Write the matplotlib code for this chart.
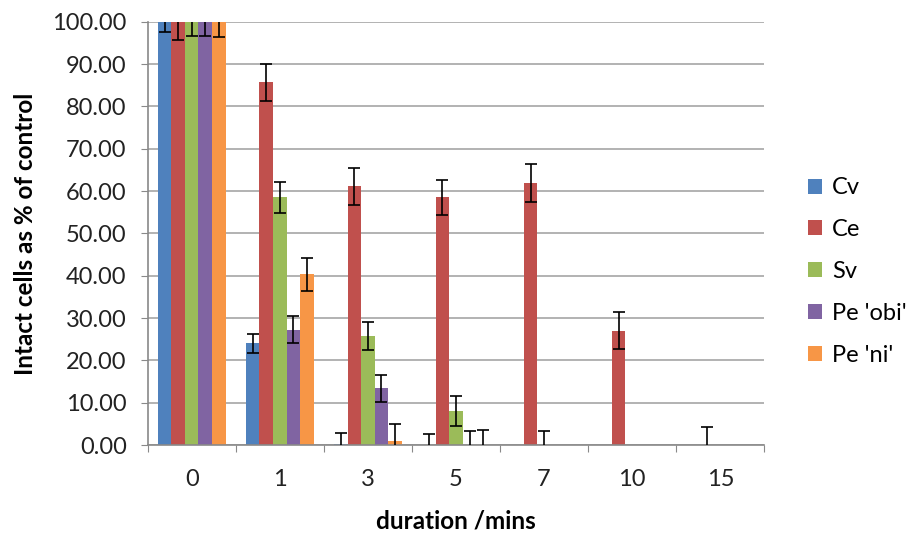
import matplotlib.pyplot as plt
import numpy as np

plt.rcParams['font.family'] = ['Lato', 'DejaVu Sans']

#data
durations = ['0', '1', '3', '5', '7', '10', '15']
series = ['Cv', 'Ce', 'Sv', "Pe 'obi'", "Pe 'ni'"]
nan = np.nan
cv = [100.0, 24.0, 0.3, 0.0, 0.0, 0.0, 0.0]
ce = [100.0, 85.7, 61.1, 58.5, 61.9, 27.0, 0.0]
sv = [100.0, 58.5, 25.8, 8.1, 0.0, 0.0, 0.0]
pe_obi = [100.0, 27.3, 13.4, 0.0, 0.0, 0.0, 0.0]
pe_ni = [100.0, 40.4, 1.0, 0.0, 0.0, 0.0, 0.0]
cv_err = [2.4, 2.3, 2.5, 2.6, nan, nan, nan]
ce_err = [4.3, 4.3, 4.3, 4.2, 4.5, 4.4, 4.3]
sv_err = [3.3, 3.7, 3.3, 3.6, 3.3, nan, nan]
pe_obi_err = [3.3, 3.2, 3.2, 3.3, nan, nan, nan]
pe_ni_err = [3.6, 3.9, 4.0, 3.6, nan, nan, nan]

values = [cv, ce, sv, pe_obi, pe_ni]
errors = [cv_err, ce_err, sv_err, pe_obi_err, pe_ni_err]
colors = ['#4F81BD', '#C0504D', '#9BBB59', '#8064A2', '#F79646']

#plot
fig = plt.figure(figsize=(9.11, 5.33), dpi=100)
ax = fig.add_axes([0.162, 0.165, 0.677, 0.794])

x = np.arange(len(durations))
w = 1 / 6.5
for i in range(len(series)):
    pos = x + (i - 2) * w
    ax.bar(pos, values[i], width=w, color=colors[i], label=series[i], zorder=2)
    ax.errorbar(pos, values[i], yerr=errors[i], fmt='none', ecolor='black',
                elinewidth=1.2, capsize=4.3, capthick=1.2, zorder=3)

ax.set_ylim(0, 100)
ax.set_xlim(-0.5, len(durations) - 0.5)
ax.set_yticks(np.arange(0, 101, 10))
ax.set_yticklabels(['%.2f' % v for v in np.arange(0, 101, 10)], fontsize=17, color='#222222')
ax.set_xticks(np.arange(-0.5, len(durations)), minor=False)
ax.set_xticklabels([])
ax.set_xticks(x, minor=True)
ax.set_xticklabels(durations, minor=True, fontsize=17, color='#222222')
ax.tick_params(axis='x', which='minor', length=0, pad=17)
ax.tick_params(axis='x', which='major', length=5, color='#898989', direction='out')
ax.tick_params(axis='y', length=5, color='#898989', direction='out', pad=10)

ax.yaxis.grid(True, color='#a6a6a6', linewidth=1.2, zorder=0)
ax.set_axisbelow(True)
for s in ['top', 'right']:
    ax.spines[s].set_visible(False)
for s in ['left', 'bottom']:
    ax.spines[s].set_color('#898989')
    ax.spines[s].set_linewidth(1.2)

ax.set_xlabel('duration /mins', fontsize=17.5, fontweight='bold', labelpad=14)
ax.set_ylabel('Intact cells as % of control', fontsize=17.5, fontweight='bold', labelpad=11)

ax.legend(loc='center left', bbox_to_anchor=(1.071, 0.41), frameon=False, fontsize=17,
          handlelength=0.6, handleheight=0.6, handletextpad=0.4, labelspacing=0.88,
          borderpad=0, borderaxespad=0)

plt.savefig('out.png', dpi=100)
